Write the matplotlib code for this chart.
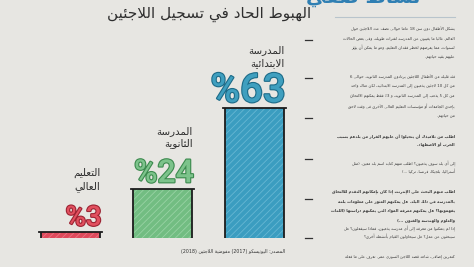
import re
import matplotlib
matplotlib.use("Agg")
import matplotlib.pyplot as plt
import matplotlib.patheffects as pe

# --- data -------------------------------------------------------------
values = [3, 24, 63]
label_lines = [["التعليم", "العالي"],
               ["المدرسة", "الثانوية"],
               ["المدرسة", "الابتدائية"]]
fill_colors = ["#df4a5c", "#72bd82", "#3b9dc0"]
hatch_colors = ["#ea7482", "#98d3a4", "#66b7d3"]
text_colors = ["#e2505f", "#7cc38b", "#3f9fbf"]
edge_text_colors = ["#9c2433", "#3c8a4e", "#1d6b88"]

title = "الهبوط الحاد في تسجيل اللاجئين"
source = "المصدر: اليونيسكو (2017) مفوضية اللاجئين (2018)"
heading = "نشاط صفي"

body = [
    ("يشكل الأطفال دون سن 18 عاما حوالي نصف عدد اللاجئين حول", False),
    ("العالم. غالبا ما يغيبون عن المدرسة لفترات طويلة، وفي بعض الحالات", False),
    ("لسنوات، مما يعرضهم لخطر فقدان التعليم، وهو ما يمكن أن يؤثر", False),
    ("عليهم بقية حياتهم.", False),
    None,
    ("فئة قليلة من الأطفال اللاجئين يرتادون المدرسة الثانوية. حوالي 6", False),
    ("من كل 10 لاجئين يذهبون إلى المدرسة الابتدائية، لكن هناك واحد", False),
    ("من كل 5 يذهب إلى المدرسة الثانوية، و 3٪ فقط يمكنهم الالتحاق", False),
    ("بإحدى الجامعات أو مؤسسات التعليم العالي الأخرى في وقت لاحق", False),
    ("من حياتهم.", False),
    None,
    ("اطلب من تلاميذك أن يتخيلوا أن عليهم الفرار من بلدهم بسبب", True),
    ("الحرب أو الاضطهاد.", True),
    None,
    ("إلى أي بلد سوف يذهبون؟ اطلب منهم كتابة اسم بلد معين. (مثل", False),
    ("أستراليا، بلجيكا، فرنسا، تركيا ...)", False),
    None,
    ("اطلب منهم البحث على الإنترنت إذا كان بإمكانهم التقدم للالتحاق", True),
    ("بالمدرسة في ذلك البلد. هل يمكنهم العثور على معلومات بلغة", True),
    ("يفهمونها؟ هل يمكنهم معرفة المواد التي يمكنهم دراستها (اللغات", True),
    ("والعلوم والهندسة والفنون ...)", True),
    ("إذا لم يتمكنوا من معرفة إلى أي مدرسة يذهبون، فماذا سيفعلون؟ هل", False),
    ("سيبحثون عن عمل؟ هل سيحاولون القيام بأنشطة أخرى؟", False),
    None,
    ("كتمرين إضافي، شاهد قصة اللاجئ السوري عمر. تعرف على ما فعله", False),
]
body_y = [29, 38, 47, 56, None, 77, 86, 96, 106, 115, None, 137, 145, None,
          163, 172, None, 192, 202, 211, 220, 228, 236, None, 257]
dash_y = [40, 78, 118, 159, 199, 238]

# --- tiny arabic shaper (matplotlib does no shaping / bidi) ------------
LETTERS = "ءآأؤإئابةتثجحخدذرزسشصضطظعغفقكلمنهوىي"
NFORMS = [1, 2, 2, 2, 2, 4, 2, 4, 2, 4, 4, 4, 4, 4, 2, 2, 2, 2, 4, 4, 4, 4,
          4, 4, 4, 4, 4, 4, 4, 4, 4, 4, 4, 2, 2, 4]
FORMS = {}
start = 0xFE80
for ch, k in zip(LETTERS, NFORMS):
    FORMS[ch] = (start, k)
    start += k
LAM_ALEF = {"آ": 0xFEF5, "أ": 0xFEF7, "إ": 0xFEF9, "ا": 0xFEFB}
MIRROR = str.maketrans("()", ")(")


def shape(s):
    chars = [c for c in s if not ("\u064b" <= c <= "\u0652")]
    n = len(chars)
    res = []
    i = 0
    while i < n:
        c = chars[i]
        prev = chars[i - 1] if i > 0 else ""
        prev_joins = prev in FORMS and FORMS[prev][1] == 4
        if c == "ل" and i + 1 < n and chars[i + 1] in LAM_ALEF:
            res.append(chr(LAM_ALEF[chars[i + 1]] + (1 if prev_joins else 0)))
            i += 2
            continue
        if c in FORMS:
            base, k = FORMS[c]
            nxt = chars[i + 1] if i + 1 < n else ""
            pj = prev_joins and k > 1
            nj = k == 4 and nxt in FORMS and nxt != "ء"
            res.append(chr(base + (1 if pj else 0) + (2 if nj else 0)))
        else:
            res.append(c)
        i += 1
    return "".join(res)


def ar(s):
    parts = re.findall(r"[0-9A-Za-z]+|.", shape(s))
    return "".join(p.translate(MIRROR) for p in reversed(parts))


# --- figure -----------------------------------------------------------
W, H = 474, 267
bg = "#e7e6e2"
fig = plt.figure(figsize=(W / 100, H / 100), dpi=100, facecolor=bg)
plt.rcParams["font.family"] = ["DejaVu Sans"]
plt.rcParams["hatch.linewidth"] = 0.6


def fx(x):
    return x / W


def fy(y):
    return 1 - y / H


ax = fig.add_axes([24.5 / W, 29 / H, 276 / W, 206 / H])
ax.set_xlim(-0.5, 2.5)
ax.set_ylim(0, 100)
ax.axis("off")

bw = 0.65
sizes = [20, 23, 29]
for i, v in enumerate(values):
    ax.bar(i, v, width=bw, color=fill_colors[i], edgecolor=hatch_colors[i],
           hatch="/////", linewidth=0)
    x0, x1 = i - bw / 2, i + bw / 2
    ax.plot([x0, x0], [0, v], color="#1c1c1c", lw=1.3, solid_capstyle="butt")
    ax.plot([x1, x1], [0, v], color="#1c1c1c", lw=1.3, solid_capstyle="butt")
    ax.plot([x0 - 0.02, x1 + 0.02], [v, v], color="#1c1c1c", lw=1.3)

    ax.annotate("%" + str(v), xy=(x1, v), xytext=(1, 4.5),
                textcoords="offset points", ha="right", va="baseline",
                fontsize=sizes[i], family="Roboto", fontweight="medium",
                color=text_colors[i],
                path_effects=[pe.withStroke(linewidth=1.6,
                                            foreground=edge_text_colors[i])])
    lbl = "\n".join(ar(t) for t in label_lines[i])
    ax.annotate(lbl, xy=(x1, v), xytext=(0, 29), textcoords="offset points",
                ha="right", va="bottom", multialignment="right",
                fontsize=7.4, color="#2b2b2b", linespacing=1.3)

# title and source
fig.text(fx(311), fy(14), ar(title), ha="right", va="center",
         fontsize=11, color="#2e2e2e")
fig.text(fx(285), fy(252), ar(source), ha="right", va="center",
         fontsize=3.4, color="#333333")

# right column (heading is cut by the top edge, as in the original)
fig.text(fx(420), fy(3), ar(heading), ha="right",
         va="baseline", fontsize=14, color="#2f7fb3", fontweight="bold")
fig.add_artist(plt.Line2D([fx(335), fx(455)], [fy(17), fy(17)],
                          color="#b8c4cc", lw=0.8))
for y in dash_y:
    fig.add_artist(plt.Line2D([fx(305), fx(312)], [fy(y), fy(y)],
                              color="#333333", lw=0.9))
for item, y in zip(body, body_y):
    if item is None:
        continue
    txt, bold = item
    fig.text(fx(455), fy(y), ar(txt), ha="right", va="center",
             fontsize=2.8, color="#3a3a3a",
             fontweight="bold" if bold else "normal")

fig.savefig("out.png", dpi=100, facecolor=bg)
